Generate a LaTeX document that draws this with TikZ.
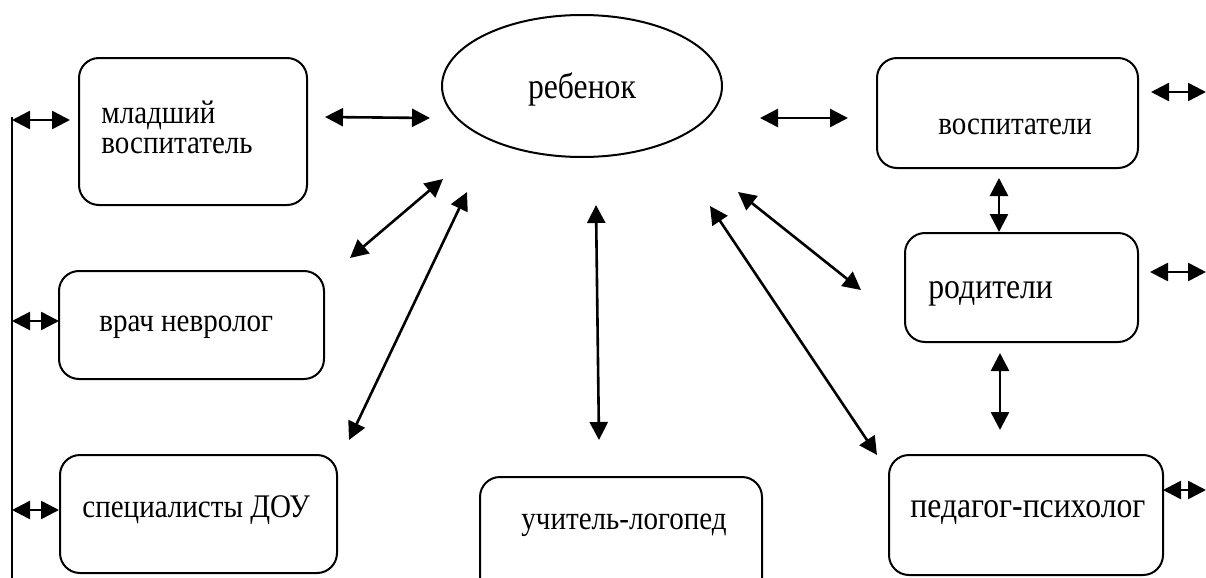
\documentclass[tikz,border=0pt]{standalone}
\usepackage{fontspec}
\setmainfont{Liberation Serif}[FakeStretch=0.88]
\usetikzlibrary{arrows.meta,shapes.geometric,fit}

\begin{document}
\begin{tikzpicture}[x=0.5pt, y=-0.5pt,
    box/.style={draw, line width=1pt, rounded corners=10pt, inner sep=0pt},
    lbl/.style={anchor=base west, inner sep=0pt, font=\fontsize{16.5}{16}\selectfont},
    big/.style={font=\fontsize{18}{18}\selectfont},
    arr/.style={<->, >={Triangle[length=9pt,width=9pt]}, line width=1.3pt}]

    % Picture size (pixels of the reference)
    \def\W{1206}
    \def\H{578}
    \useasboundingbox (0,0) rectangle (\W,\H);
    \clip (0,0) rectangle (\W,\H);

    % Centre: the child
    \node[draw, ellipse, line width=1pt, inner sep=0pt,
          minimum width=140pt, minimum height=71pt] (child) at (582,86) {};
    \node[lbl, big, anchor=base] (child-t) at (582,98) {ребенок};

    % Boxes on the left
    \node[box, fit={(79,58) (307,205)}] (mlvosp) {};
    \node[box, fit={(59,271) (324,379)}] (vrach) {};
    \node[box, fit={(60,455) (337,573)}] (spec) {};
    % Box at the bottom (cut by the page edge)
    \node[box, fit={(480,477) (762,600)}] (logoped) {};
    % Boxes on the right
    \node[box, fit={(877,58) (1138,168)}] (vosp) {};
    \node[box, fit={(905,233) (1138,342)}] (rodit) {};
    \node[box, fit={(889,455) (1163,575)}] (psych) {};

    % Texts of the boxes
    \node[lbl] (mlvosp-t1) at (101,123) {младший};
    \node[lbl] (mlvosp-t2) at (101,153) {воспитатель};
    \node[lbl] (vrach-t) at (99,331) {врач невролог};
    \node[lbl] (spec-t) at (82,517) {специалисты ДОУ};
    \node[lbl] (logoped-t) at (521,529) {учитель-логопед};
    \node[lbl] (vosp-t) at (938,134) {воспитатели};
    \node[lbl, big] (rodit-t) at (928,298) {родители};
    \node[lbl, big] (psych-t) at (910,517) {педагог-психолог};

    % Line along the left edge
    \coordinate (bus-top) at (12,117);
    \coordinate (bus-end) at (12,\H);
    \draw[line width=1.3pt] (bus-top) -- (bus-end);

    % Ends of the arrows
    \coordinate (bus-a) at (12,120);   \coordinate (mlvosp-a) at (70,120);
    \coordinate (bus-b) at (12,321);   \coordinate (vrach-a) at (59,321);
    \coordinate (bus-c) at (12,510);   \coordinate (spec-a) at (59,510);
    \coordinate (mlvosp-b) at (325,117); \coordinate (child-w) at (430,118);
    \coordinate (child-e) at (760,118);  \coordinate (vosp-w) at (848,118);
    \coordinate (vosp-e) at (1151,92);   \coordinate (edge-a) at (\W,92);
    \coordinate (rodit-e) at (1150,272); \coordinate (edge-b) at (\W,272);
    \coordinate (psych-e) at (1163,490); \coordinate (edge-c) at (\W,490);
    \coordinate (vosp-s) at (999,178);   \coordinate (rodit-n) at (999,232);
    \coordinate (rodit-s) at (1000,353); \coordinate (psych-n) at (1000,430);
    \coordinate (child-a) at (443,179);  \coordinate (vrach-b) at (350,258);
    \coordinate (child-b) at (467,192);  \coordinate (spec-b) at (349,440);
    \coordinate (child-c) at (596,205);  \coordinate (logoped-a) at (599,440);
    \coordinate (child-d) at (738,192);  \coordinate (rodit-a) at (861,290);
    \coordinate (child-f) at (710,206);  \coordinate (psych-a) at (877,455);

    % Arrows
    \draw[arr] (bus-a) -- (mlvosp-a);
    \draw[arr] (bus-b) -- (vrach-a);
    \draw[arr] (bus-c) -- (spec-a);
    \draw[arr] (mlvosp-b) -- (child-w);
    \draw[arr] (child-e) -- (vosp-w);
    \draw[arr] (vosp-e) -- (edge-a);
    \draw[arr] (rodit-e) -- (edge-b);
    \draw[arr] (psych-e) -- (edge-c);
    \draw[arr] (vosp-s) -- (rodit-n);
    \draw[arr] (rodit-s) -- (psych-n);
    \draw[arr] (child-a) -- (vrach-b);
    \draw[arr] (child-b) -- (spec-b);
    \draw[arr] (child-c) -- (logoped-a);
    \draw[arr] (child-d) -- (rodit-a);
    \draw[arr] (child-f) -- (psych-a);

\end{tikzpicture}
\end{document}
